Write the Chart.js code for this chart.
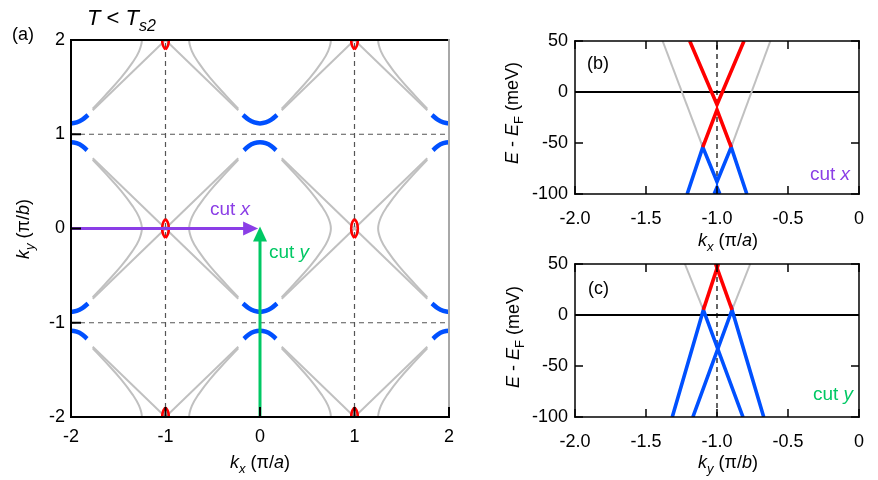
<!DOCTYPE html>
<html>
<head>
<meta charset="utf-8">
<script src="https://cdn.jsdelivr.net/npm/chart.js@4"></script>
<style>
  body { margin: 0; background: #fff; }
  #wrap { position: relative; width: 878px; height: 480px; background: #fff; }
  .pane { position: absolute; }
</style>
</head>
<body>
<div id="wrap">
  <div class="pane" style="left:0;top:0;width:470px;height:480px"><canvas id="mapA"></canvas></div>
  <div class="pane" style="left:470px;top:0;width:408px;height:252px"><canvas id="cutB"></canvas></div>
  <div class="pane" style="left:470px;top:240px;width:408px;height:240px"><canvas id="cutC"></canvas></div>
</div>
<script>
// ---- panel (a): Fermi surface map, k in units of pi/a, pi/b ----
const mapTicks = [-2, -1, 0, 1, 2];
const dashAt = [-1, 1];
// crossing points and gap centres
const nodes = [[-1, 0], [1, 0], [-1, 2], [1, 2], [-1, -2], [1, -2]];
const gapCenters = [[0, 1], [0, -1], [-2, 1], [-2, -1], [2, 1], [2, -1]];
// shapes, relative to their centre
const xArm = [[0, 0], [0.77, 0.745]];
const hypBranch = [[0.77, 0.73], [0.64, 0.59], [0.47, 0.40], [0.35, 0.24], [0.28, 0.12], [0.25, 0],
                   [0.28, -0.12], [0.35, -0.24], [0.47, -0.40], [0.64, -0.59], [0.77, -0.73]];
const lensHalf = [[0, 0.10], [0.026, 0.06], [0.035, 0], [0.026, -0.06], [0, -0.10]];
const arcUpper = [[-0.18, 0.205], [-0.12, 0.155], [-0.06, 0.125], [0, 0.115], [0.06, 0.125], [0.12, 0.155], [0.18, 0.205]];
const arcLower = [[-0.17, -0.17], [-0.12, -0.125], [-0.06, -0.095], [0, -0.085], [0.06, -0.095], [0.12, -0.125], [0.17, -0.17]];
const cutXArrow = [[-2, 0], [-0.02, 0]];
const cutYArrow = [[0, -2], [0, 0.02]];

// ---- panels (b), (c): dispersions along the cuts, meV ----
const cutTicksX = [-2, -1.5, -1, -0.5, 0];
const cutTicksY = [-100, -50, 0, 50];
const cutXGray = [[[-1.383, 50], [-1.10, -54]], [[-0.624, 50], [-0.90, -54]]];
const cutXRed = [[[-1.192, 50], [-1.0, -12.5], [-0.81, 50]], [[-1.10, -54], [-1.0, -17.5], [-0.90, -54]]];
const cutXBlue = [[[-1.21, -100], [-1.10, -54], [-1.0, -88], [-0.90, -54], [-0.79, -100]],
                  [[-1.02, -100], [-1.0, -93.5], [-0.98, -100]]];
const cutYGray = [[[-1.226, 50], [-1.096, 5]], [[-0.766, 50], [-0.894, 5]]];
const cutYRed = [[[-1.096, 5], [-0.99, 50]], [[-0.894, 5], [-1.01, 50]]];
const cutYBlue = [[[-1.315, -100], [-1.096, 5], [-0.817, -100]],
                  [[-1.17, -100], [-0.894, 5], [-0.671, -100]]];

const FONT = '"Liberation Sans", Arial, Helvetica, sans-serif';
const GRAY = '#c0c0c0', RED = '#ff0000', BLUE = '#0050ff', PURPLE = '#8b3ee6', GREEN = '#00c864';

function line(data, color, width, order, extra) {
  return Object.assign({
    data, showLine: true, borderColor: color, borderWidth: width, pointRadius: 0,
    order, clip: 0, borderJoinStyle: 'miter', borderCapStyle: 'butt'
  }, extra || {});
}
const place = (shape, cx, cy, sx = 1, sy = 1) => shape.map(([dx, dy]) => ({ x: cx + sx * dx, y: cy + sy * dy }));

function richText(ctx, t) {
  ctx.save();
  ctx.translate(t.x, t.y);
  if (t.rotate) ctx.rotate(t.rotate);
  const font = s => (s.i ? 'italic ' : '') + (s.sub ? Math.round(t.size * 0.72) : t.size) + 'px ' + FONT;
  let w = 0;
  t.segs.forEach(s => { ctx.font = font(s); w += ctx.measureText(s.t).width; });
  let x = t.align === 'center' ? -w / 2 : 0;
  ctx.fillStyle = t.color || '#000';
  ctx.textAlign = 'left';
  ctx.textBaseline = 'alphabetic';
  t.segs.forEach(s => {
    ctx.font = font(s);
    ctx.fillText(s.t, x, s.sub ? t.size * 0.28 : 0);
    x += ctx.measureText(s.t).width;
  });
  ctx.restore();
}

// frame, inward ticks, arrows and labels
const deco = {
  id: 'deco',
  afterDatasetsDraw(chart, args, o) {
    const { ctx, chartArea: a, scales: { x, y } } = chart;
    ctx.save();
    (o.arrows || []).forEach(ar => {
      const p0 = [x.getPixelForValue(ar.path[0][0]), y.getPixelForValue(ar.path[0][1])];
      const p1 = [x.getPixelForValue(ar.path[1][0]), y.getPixelForValue(ar.path[1][1])];
      const len = Math.hypot(p1[0] - p0[0], p1[1] - p0[1]);
      const ux = (p1[0] - p0[0]) / len, uy = (p1[1] - p0[1]) / len;
      const bx = p1[0] - ux * 15, by = p1[1] - uy * 15;
      ctx.strokeStyle = ar.color; ctx.fillStyle = ar.color; ctx.lineWidth = 3;
      ctx.beginPath(); ctx.moveTo(p0[0], p0[1]); ctx.lineTo(bx + ux, by + uy); ctx.stroke();
      ctx.beginPath();
      ctx.moveTo(p1[0], p1[1]);
      ctx.lineTo(bx - uy * 7, by + ux * 7);
      ctx.lineTo(bx + uy * 7, by - ux * 7);
      ctx.closePath(); ctx.fill();
    });
    const f = o.frame;
    ctx.lineWidth = f.width;
    ctx.lineCap = 'square';
    const side = (c, x0, y0, x1, y1) => { ctx.strokeStyle = c; ctx.beginPath(); ctx.moveTo(x0, y0); ctx.lineTo(x1, y1); ctx.stroke(); };
    side(f.top, a.left, a.top, a.right, a.top);
    side(f.right, a.right, a.top, a.right, a.bottom);
    side(f.bottom, a.left, a.bottom, a.right, a.bottom);
    side(f.left, a.left, a.top, a.left, a.bottom);
    ctx.lineCap = 'butt';
    const L = f.tickLen;
    (f.ticks.bottom || []).forEach(v => { const px = x.getPixelForValue(v); side('#000', px, a.bottom, px, a.bottom - L); });
    (f.ticks.top || []).forEach(v => { const px = x.getPixelForValue(v); side('#000', px, a.top, px, a.top + L); });
    (f.ticks.left || []).forEach(v => { const py = y.getPixelForValue(v); side('#000', a.left, py, a.left + L, py); });
    (f.ticks.right || []).forEach(v => { const py = y.getPixelForValue(v); side('#000', a.right, py, a.right - L, py); });
    (o.texts || []).forEach(t => richText(ctx, t));
    ctx.restore();
  }
};

function baseOptions(pad, xH, yW, xr, yr, xStep, yStep, xFmt, xPad, yPad, decoOpts) {
  const tickFont = { family: FONT, size: 18 };
  return {
    responsive: true, maintainAspectRatio: false, animation: false, events: [],
    layout: { padding: pad },
    scales: {
      x: {
        type: 'linear', min: xr[0], max: xr[1], afterFit: s => { s.height = xH; },
        ticks: { stepSize: xStep, autoSkip: false, maxRotation: 0, minRotation: 0, padding: xPad, color: '#000', font: tickFont, callback: xFmt },
        grid: { display: false, drawTicks: false }, border: { display: false }
      },
      y: {
        type: 'linear', min: yr[0], max: yr[1], afterFit: s => { s.width = yW; },
        ticks: { stepSize: yStep, autoSkip: false, padding: yPad, color: '#000', font: tickFont, callback: v => String(v) },
        grid: { display: false, drawTicks: false }, border: { display: false }
      }
    },
    plugins: { legend: { display: false }, tooltip: { enabled: false }, deco: decoOpts }
  };
}

// ---------- panel (a) ----------
const dsA = [];
dashAt.forEach(v => {
  dsA.push(line([{ x: v, y: -2 }, { x: v, y: 2 }], '#555', 1.2, 5, { borderDash: [5, 4] }));
  dsA.push(line([{ x: -2, y: v }, { x: 2, y: v }], '#555', 1.2, 5, { borderDash: [5, 4] }));
});
nodes.forEach(([cx, cy]) => {
  [[1, 1], [1, -1], [-1, 1], [-1, -1]].forEach(([sx, sy]) => dsA.push(line(place(xArm, cx, cy, sx, sy), GRAY, 2, 4)));
  [1, -1].forEach(sx => dsA.push(line(place(hypBranch, cx, cy, sx, 1), GRAY, 2, 4, { tension: 0.4 })));
  [1, -1].forEach(sx => dsA.push(line(place(lensHalf, cx, cy, sx, 1), RED, 2.6, 2, { tension: 0.4 })));
});
gapCenters.forEach(([cx, cy]) => {
  dsA.push(line(place(arcUpper, cx, cy), BLUE, 4.5, 3, { tension: 0.4 }));
  dsA.push(line(place(arcLower, cx, cy), BLUE, 4.5, 3, { tension: 0.4 }));
});

new Chart(document.getElementById('mapA'), {
  type: 'scatter',
  data: { datasets: dsA },
  options: baseOptions({ left: 0, right: 21, top: 40, bottom: 0 }, 63, 71, [-2, 2], [-2, 2], 1, 1,
    v => String(v), 9, 6, {
      frame: { top: '#000', right: '#a8a8a8', bottom: '#000', left: '#000', width: 2, tickLen: 10,
               ticks: { bottom: mapTicks, left: mapTicks } },
      arrows: [{ path: cutXArrow, color: PURPLE }, { path: cutYArrow, color: GREEN }],
      texts: [
        { segs: [{ t: '(a)' }], x: 12, y: 40, size: 18 },
        { segs: [{ t: 'T', i: 1 }, { t: ' < ' }, { t: 'T', i: 1 }, { t: 's2', i: 1, sub: 1 }], x: 87, y: 25, size: 22 },
        { segs: [{ t: 'cut ' }, { t: 'x', i: 1 }], x: 210, y: 215, size: 19, color: PURPLE },
        { segs: [{ t: 'cut ' }, { t: 'y', i: 1 }], x: 269, y: 258, size: 19, color: GREEN },
        { segs: [{ t: 'k', i: 1 }, { t: 'x', i: 1, sub: 1 }, { t: ' (π/' }, { t: 'a', i: 1 }, { t: ')' }], x: 260, y: 468, size: 18, align: 'center' },
        { segs: [{ t: 'k', i: 1 }, { t: 'y', i: 1, sub: 1 }, { t: ' (π/' }, { t: 'b', i: 1 }, { t: ')' }], x: 29, y: 229, size: 18, align: 'center', rotate: -Math.PI / 2 }
      ]
    })
  ,
  plugins: [deco]
});

// ---------- panels (b), (c) ----------
const cutFmt = v => (v === 0 ? '0' : v.toFixed(1));
const eTitle = [{ t: 'E', i: 1 }, { t: ' - ' }, { t: 'E', i: 1 }, { t: 'F', sub: 1 }, { t: ' (meV)' }];

function cutDatasets(gray, red, blue) {
  const ds = [
    line([[-1, -100], [-1, 50]], '#000', 1.2, 6, { borderDash: [5, 4] }),
    line([[-2, 0], [0, 0]], '#000', 2, 5)
  ];
  gray.forEach(d => ds.push(line(d, GRAY, 2, 4)));
  blue.forEach(d => ds.push(line(d, BLUE, 3.6, 3)));
  red.forEach(d => ds.push(line(d, RED, 3.6, 2)));
  return ds;
}
const cutFrame = { top: '#000', right: '#000', bottom: '#000', left: '#000', width: 1.5, tickLen: 8,
                   ticks: { bottom: cutTicksX, top: cutTicksX, left: cutTicksY, right: cutTicksY } };

new Chart(document.getElementById('cutB'), {
  type: 'scatter',
  data: { datasets: cutDatasets(cutXGray, cutXRed, cutXBlue) },
  options: baseOptions({ left: 0, right: 6, top: 41, bottom: 0 }, 58, 105, [-2, 0], [-100, 50], 0.5, 50,
    cutFmt, 14, 7, {
      frame: cutFrame,
      texts: [
        { segs: [{ t: '(b)' }], x: 117, y: 69, size: 18 },
        { segs: [{ t: 'cut ' }, { t: 'x', i: 1 }], x: 340, y: 180, size: 19, color: PURPLE },
        { segs: [{ t: 'k', i: 1 }, { t: 'x', i: 1, sub: 1 }, { t: ' (π/' }, { t: 'a', i: 1 }, { t: ')' }], x: 258, y: 246, size: 18, align: 'center' },
        { segs: eTitle, x: 48, y: 113, size: 18, align: 'center', rotate: -Math.PI / 2 }
      ]
    }),
  plugins: [deco]
});

new Chart(document.getElementById('cutC'), {
  type: 'scatter',
  data: { datasets: cutDatasets(cutYGray, cutYRed, cutYBlue) },
  options: baseOptions({ left: 0, right: 6, top: 24, bottom: 0 }, 63, 105, [-2, 0], [-100, 50], 0.5, 50,
    cutFmt, 14, 7, {
      frame: cutFrame,
      texts: [
        { segs: [{ t: '(c)' }], x: 118, y: 54, size: 18 },
        { segs: [{ t: 'cut ' }, { t: 'y', i: 1 }], x: 343, y: 160, size: 19, color: GREEN },
        { segs: [{ t: 'k', i: 1 }, { t: 'y', i: 1, sub: 1 }, { t: ' (π/' }, { t: 'b', i: 1 }, { t: ')' }], x: 258, y: 228, size: 18, align: 'center' },
        { segs: eTitle, x: 49, y: 97, size: 18, align: 'center', rotate: -Math.PI / 2 }
      ]
    }),
  plugins: [deco]
});
</script>
</body>
</html>
